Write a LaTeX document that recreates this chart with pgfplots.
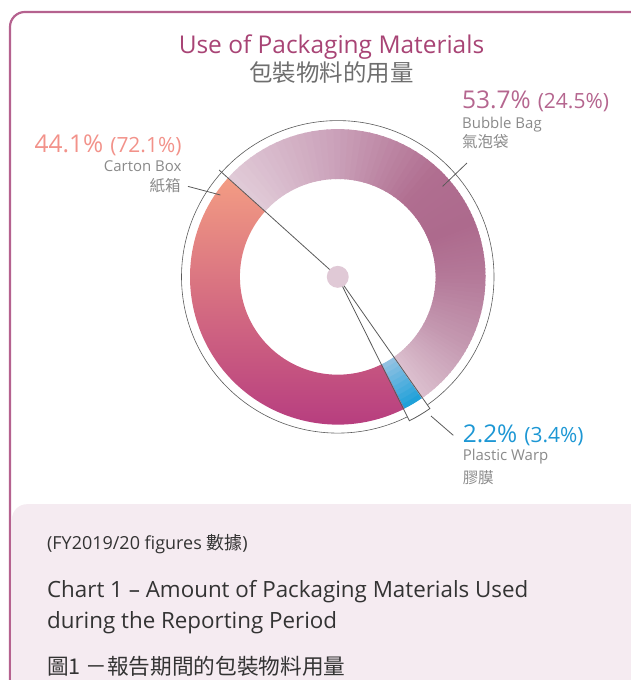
\documentclass[border=0pt]{standalone}
\usepackage{pgfplots}
\pgfplotsset{compat=1.18}
\usepackage{fontspec}
\setmainfont{Open Sans}
\newfontfamily\cjk{Noto Sans CJK TC}

\definecolor{frame}{HTML}{B5628F}
\definecolor{titlec}{HTML}{A84475}
\definecolor{subc}{HTML}{6E6E6E}
\definecolor{lblc}{HTML}{8A8A8A}
\definecolor{cartonc}{HTML}{F2928A}
\definecolor{bubblec}{HTML}{B5668F}
\definecolor{plasticc}{HTML}{1D97D4}
\definecolor{panel}{HTML}{F5EBF1}
\definecolor{dot}{HTML}{E0C9D6}
\definecolor{linec}{HTML}{5A5A5A}
\definecolor{textc}{HTML}{333333}
% bubble bag ring colours, clockwise
\definecolor{bA}{HTML}{E1CBD8}
\definecolor{bB}{HTML}{CBA2BA}
\definecolor{bC}{HTML}{B06E90}
\definecolor{bD}{HTML}{AD6A8D}
\definecolor{bE}{HTML}{B47898}
\definecolor{bF}{HTML}{C498B0}
\definecolor{bG}{HTML}{DCC0CF}
% carton box and plastic
\definecolor{cTop}{HTML}{F39C83}
\definecolor{cMid}{HTML}{E2848A}
\definecolor{cBot}{HTML}{B2367F}
\definecolor{pIn}{HTML}{97C3E3}
\definecolor{pOut}{HTML}{1A9FD9}

% share of each material (%), as printed on the chart
\def\shareBubble{53.7}
\def\sharePlastic{2.2}
\def\shareCarton{44.1}

\def\cx{338.3}\def\cy{403.7}\def\Rin{98}\def\Rout{148}
\pgfmathsetmacro\aS{138}
\pgfmathsetmacro\aB{\aS-3.6*\shareBubble}
\pgfmathsetmacro\aP{\aB-3.6*\sharePlastic}
\pgfmathsetmacro\aC{\aP-3.6*\shareCarton}

\newcommand\fs[1]{\fontsize{#1}{#1}\selectfont}
% ring piece: angle from, angle to, inner r, outer r, path options
\newcommand\seg[5]{%
  \pgfmathsetmacro\sA{#1}\pgfmathsetmacro\sB{#2}%
  \pgfmathsetmacro\rI{#3}\pgfmathsetmacro\rO{#4}%
  \pgfmathsetmacro\xa{\cx+\rO*cos(\sA)}\pgfmathsetmacro\ya{\cy+\rO*sin(\sA)}%
  \pgfmathsetmacro\xb{\cx+\rI*cos(\sB)}\pgfmathsetmacro\yb{\cy+\rI*sin(\sB)}%
  \edef\tmp{\noexpand\path[#5] (axis cs:\xa,\ya) arc[start angle=\sA,end angle=\sB,radius=\rO pt]
    -- (axis cs:\xb,\yb) arc[start angle=\sB,end angle=\sA,radius=\rI pt] -- cycle;}\tmp}

\begin{document}
\begin{tikzpicture}
\begin{axis}[x=1pt,y=1pt,xmin=0,xmax=632,ymin=0,ymax=681,
  hide axis,clip=false,enlargelimits=false]
\path (axis cs:0,0) (axis cs:632,681);

% frame and caption panel
\fill[panel] (axis cs:12,0) -- (axis cs:12,161) arc[start angle=180,end angle=90,radius=15pt]
  -- (axis cs:632,176) -- (axis cs:632,0) -- cycle;
\draw[frame,line width=2.2pt] (axis cs:10,0) -- (axis cs:10,654) arc[start angle=180,end angle=90,radius=15pt]
  -- (axis cs:632,669);

% bubble bag
\foreach \ta/\tb/\ca/\cb in {0/0.24/bA/bB,0.24/0.47/bB/bC,0.47/0.6/bC/bD,0.6/0.71/bD/bE,0.71/0.86/bE/bF,0.86/1/bF/bG}{%
  \foreach \k in {1,...,16}{%
    \pgfmathsetmacro\tu{\ta+(\tb-\ta)*(\k-1)/16}%
    \pgfmathsetmacro\tv{min(1,\ta+(\tb-\ta)*\k/16+0.003)}%
    \pgfmathsetmacro\m{100-100*(\k-0.5)/16}%
    \pgfmathsetmacro\sa{\aS-(\aS-\aB)*\tu}%
    \pgfmathsetmacro\sb{\aS-(\aS-\aB)*\tv}%
    \seg{\sa}{\sb}{\Rin}{\Rout}{fill=\ca!\m!\cb}%
  }}
% plastic warp
\foreach \k in {1,...,10}{%
  \pgfmathsetmacro\ra{\Rin+(\Rout-\Rin)*(\k-1)/10}%
  \pgfmathsetmacro\rb{min(\Rout,\Rin+(\Rout-\Rin)*\k/10+0.6)}%
  \pgfmathsetmacro\m{100-100*(\k-0.5)/10}%
  \seg{\aB}{\aP}{\ra}{\rb}{fill=pIn!\m!pOut}%
}
% carton box
\seg{\aP}{\aC}{\Rin}{\Rout}{top color=cTop,middle color=cMid,bottom color=cBot}

% outlines
\draw[linec,line width=0.6pt] (axis cs:\cx,\cy) circle[radius=156.5pt];
\seg{\aB+0.3}{\aP-0.3}{\Rout+0.3}{161}{fill=white}
\pgfmathsetmacro\pa{\aB+0.3}\pgfmathsetmacro\pb{\aP-0.3}
\pgfmathsetmacro\xa{\cx+161*cos(\pa)}\pgfmathsetmacro\ya{\cy+161*sin(\pa)}
\edef\tmp{\noexpand\draw[linec,line width=0.8pt] (axis cs:\cx,\cy) -- (axis cs:\xa,\ya)
  arc[start angle=\pa,end angle=\pb,radius=161pt] -- cycle;}\tmp
\pgfmathsetmacro\xa{\cx+160*cos(\aS)}\pgfmathsetmacro\ya{\cy+160*sin(\aS)}
\edef\tmp{\noexpand\draw[linec,line width=0.8pt] (axis cs:\cx,\cy) -- (axis cs:\xa,\ya);}\tmp
\fill[dot] (axis cs:\cx,\cy) circle[radius=11pt];

% pointers
\draw[linec,line width=0.8pt] (axis cs:188.3,494.3) -- (axis cs:220.7,485.7);
\draw[linec,line width=0.8pt] (axis cs:467.7,517.7) -- (axis cs:443.3,494.3);
\draw[linec,line width=0.8pt] (axis cs:431.7,264.3) -- (axis cs:454,245);

% titles
\node[anchor=base,inner sep=0,titlec,font=\fs{24.5}] at (axis cs:332,627.7) {Use of Packaging Materials};
\node[anchor=base,inner sep=0,subc,font=\cjk\fs{23.5}] at (axis cs:332,599) {包裝物料的用量};

% labels
\node[anchor=base east,inner sep=0,cartonc] at (axis cs:182,528) {{\fs{24.5}44.1\%}\hspace{7pt}{\fs{21}(72.1\%)}};
\node[anchor=base east,inner sep=0,lblc,font=\fs{15}] at (axis cs:182,509.3) {Carton Box};
\node[anchor=base east,inner sep=0,lblc,font=\cjk\fs{15.5}] at (axis cs:181,489) {紙箱};

\node[anchor=base west,inner sep=0,bubblec] at (axis cs:462.7,572.7) {{\fs{24.5}53.7\%}\hspace{7pt}{\fs{21}(24.5\%)}};
\node[anchor=base west,inner sep=0,lblc,font=\fs{15}] at (axis cs:462.7,552.7) {Bubble Bag};
\node[anchor=base west,inner sep=0,lblc,font=\cjk\fs{15.5}] at (axis cs:462.7,533) {氣泡袋};

\node[anchor=base west,inner sep=0,plasticc] at (axis cs:463.3,238) {{\fs{24.5}2.2\%}\hspace{7pt}{\fs{21}(3.4\%)}};
\node[anchor=base west,inner sep=0,lblc,font=\fs{15}] at (axis cs:463.3,219.3) {Plastic Warp};
\node[anchor=base west,inner sep=0,lblc,font=\cjk\fs{15.5}] at (axis cs:463.3,197) {膠膜};

% caption
\node[anchor=base west,inner sep=0,textc,font=\fs{18}] at (axis cs:47,131) {(FY2019/20 figures {\cjk 數據})};
\node[anchor=base west,inner sep=0,textc,font=\fs{22.4}] at (axis cs:47,83) {Chart 1 – Amount of Packaging Materials Used};
\node[anchor=base west,inner sep=0,textc,font=\fs{22.4}] at (axis cs:47,51) {during the Reporting Period};
\node[anchor=base west,inner sep=0,textc,font=\cjk\fs{21.7}] at (axis cs:47,5) {圖1 －報告期間的包裝物料用量};
\end{axis}
\end{tikzpicture}
\end{document}
